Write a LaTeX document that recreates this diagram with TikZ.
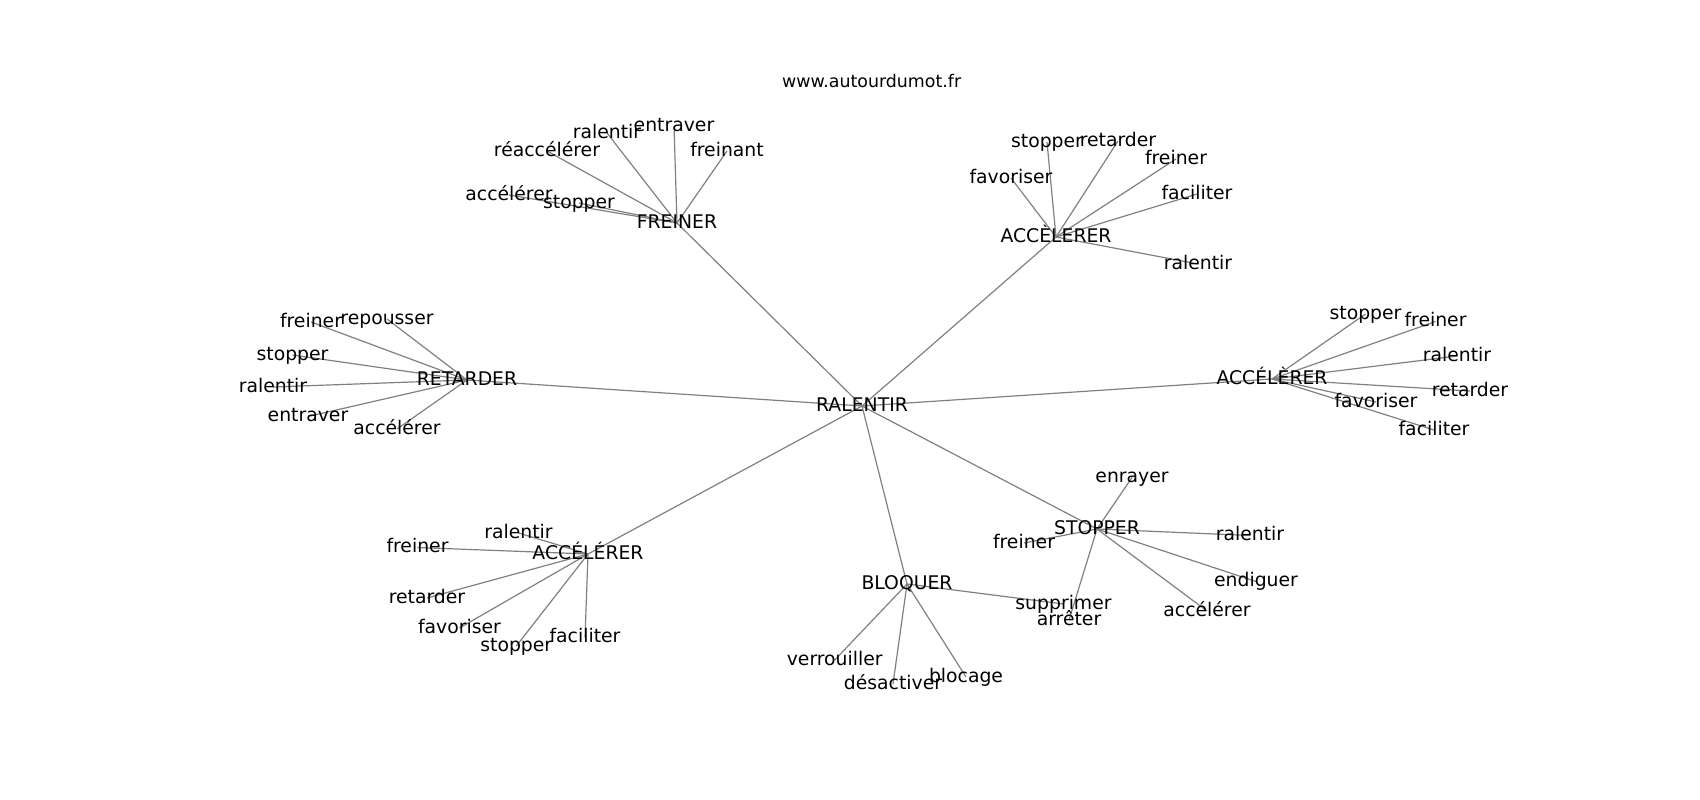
\documentclass[tikz,border=0pt]{standalone}
\usepackage{fontspec}
\setmainfont{DejaVu Sans}
\pgfdeclarelayer{background}
\pgfsetlayers{background,main}
\begin{document}
\begin{tikzpicture}[x=1bp,y=-1bp,
  lbl/.style={font=\fontsize{18.8bp}{22bp}\selectfont, inner sep=0pt, text height=14.3bp, text depth=3.9bp, anchor=center},
  ttl/.style={font=\fontsize{17.4bp}{20bp}\selectfont, inner sep=0pt, anchor=base},
  edge/.style={draw=black!50, line width=1.2bp}]
\useasboundingbox (0,0) rectangle (1700,800);
\node[ttl] (title) at (871.7,87.3) {www.autourdumot.fr};
% hubs
\node[lbl] (r) at (862,406) {RALENTIR};
\node[lbl] (f) at (677,223) {FREINER};
\node[lbl] (at) at (1056,237) {ACCÈLERER};
\node[lbl] (rt) at (467,380) {RETARDER};
\node[lbl] (ar) at (1272,379) {ACCÉLÈRER};
\node[lbl] (ab) at (588,554) {ACCÉLÉRER};
\node[lbl] (b) at (907,584) {BLOQUER};
\node[lbl] (s) at (1097,529) {STOPPER};
% FREINER leaves
\node[lbl] (f1) at (547,151) {réaccélérer};
\node[lbl] (f2) at (607,133) {ralentir};
\node[lbl] (f3) at (674,126) {entraver};
\node[lbl] (f4) at (727,151) {freinant};
\node[lbl] (f5) at (509,195) {accélérer};
\node[lbl] (f6) at (579,203) {stopper};
% ACC top leaves
\node[lbl] (a1) at (1047,142) {stopper};
\node[lbl] (a2) at (1118,141) {retarder};
\node[lbl] (a3) at (1176,159) {freiner};
\node[lbl] (a4) at (1011,178) {favoriser};
\node[lbl] (a5) at (1197,194) {faciliter};
\node[lbl] (a6) at (1198,264) {ralentir};
% RETARDER leaves
\node[lbl] (t1) at (311,322) {freiner};
\node[lbl] (t2) at (387,319) {repousser};
\node[lbl] (t3) at (292.5,355) {stopper};
\node[lbl] (t4) at (273,387) {ralentir};
\node[lbl] (t5) at (308,416.5) {entraver};
\node[lbl] (t6) at (397,429) {accélérer};
% ACC right leaves
\node[lbl] (c1) at (1365.5,314) {stopper};
\node[lbl] (c2) at (1435.5,321.5) {freiner};
\node[lbl] (c3) at (1457,356) {ralentir};
\node[lbl] (c4) at (1470,391) {retarder};
\node[lbl] (c5) at (1376,402) {favoriser};
\node[lbl] (c6) at (1434,430) {faciliter};
% ACC bottom-left leaves
\node[lbl] (d1) at (518.5,533) {ralentir};
\node[lbl] (d2) at (417.5,547.5) {freiner};
\node[lbl] (d3) at (427,598) {retarder};
\node[lbl] (d4) at (459.5,628) {favoriser};
\node[lbl] (d5) at (516.3,646) {stopper};
\node[lbl] (d6) at (585,637.5) {faciliter};
% BLOQUER leaves
\node[lbl] (b1) at (834.7,660) {verrouiller};
\node[lbl] (b2) at (893,684) {désactiver};
\node[lbl] (b3) at (966,677) {blocage};
\node[lbl] (b4) at (1063.5,604) {supprimer};
% STOPPER leaves
\node[lbl] (s1) at (1132,477.5) {enrayer};
\node[lbl] (s2) at (1250,535.5) {ralentir};
\node[lbl] (s3) at (1256,581.5) {endiguer};
\node[lbl] (s4) at (1207,611) {accélérer};
\node[lbl] (s5) at (1024,543) {freiner};
\node[lbl] (s6) at (1069,620) {arrêter};
\begin{pgfonlayer}{background}
\foreach \h in {f,at,rt,ar,ab,b,s} \draw[edge] (r.center) -- (\h.center);
\foreach \l in {f1,f2,f3,f4,f5,f6} \draw[edge] (f.center) -- (\l.center);
\foreach \l in {a1,a2,a3,a4,a5,a6} \draw[edge] (at.center) -- (\l.center);
\foreach \l in {t1,t2,t3,t4,t5,t6} \draw[edge] (rt.center) -- (\l.center);
\foreach \l in {c1,c2,c3,c4,c5,c6} \draw[edge] (ar.center) -- (\l.center);
\foreach \l in {d1,d2,d3,d4,d5,d6} \draw[edge] (ab.center) -- (\l.center);
\foreach \l in {b1,b2,b3,b4} \draw[edge] (b.center) -- (\l.center);
\foreach \l in {s1,s2,s3,s4,s5,s6} \draw[edge] (s.center) -- (\l.center);
\end{pgfonlayer}
\end{tikzpicture}
\end{document}
